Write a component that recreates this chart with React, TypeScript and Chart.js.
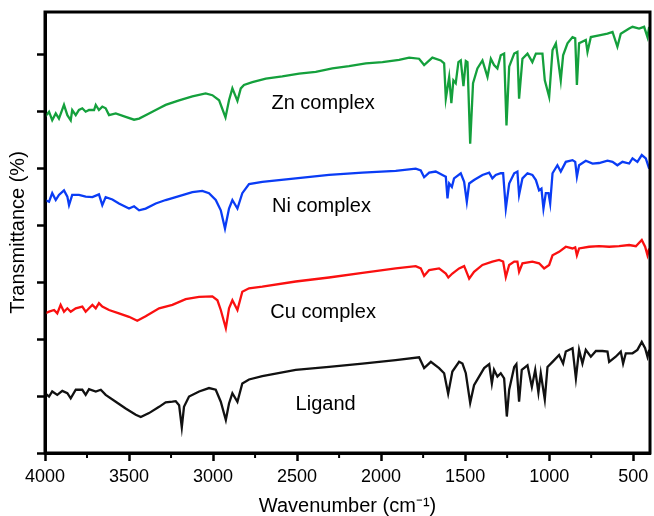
import React, { useEffect, useRef } from 'react';
import { Chart, registerables } from 'chart.js';

Chart.register(...registerables);

const xMajorTicks = [4000, 3500, 3000, 2500, 2000, 1500, 1000, 500];
const xMinorTicks = [3750, 3250, 2750, 2250, 1750, 1250, 750];
const yTicks = [0, 10, 20, 30, 40, 50, 60, 70];

const seriesNames = ['Zn complex', 'Ni complex', 'Cu complex', 'Ligand'];
const seriesColors = ['#14a03c', '#0a3cf5', '#fa1010', '#111111'];

const znWave = [4000,3976,3957,3936,3917,3887,3867,3847,3838,3817,3798,3778,3758,3738,3708,3698,3679,3659,3639,3619,3579,3520,3470,3440,3381,3321,3282,3202,3123,3044,3004,2964,2926,2905,2885,2855,2835,2816,2766,2686,2588,2488,2389,2290,2191,2091,1992,1893,1833,1774,1744,1695,1645,1625,1615,1595,1582,1570,1556,1540,1526,1510,1496,1486,1470,1453,1427,1397,1367,1347,1328,1308,1288,1268,1254,1238,1208,1189,1179,1159,1129,1100,1079,1040,1026,1000,980,960,931,917,891,861,845,835,822,782,772,752,703,653,623,594,574,524,504,465,435,415,405];
const znT = [59.0,59.9,58.4,59.6,58.7,61.1,59.3,58.4,60.2,59.3,60.2,60.5,59.9,60.2,60.2,61.1,60.2,60.8,60.5,59.3,59.6,59.0,58.5,58.7,59.6,60.5,61.1,61.9,62.6,63.1,62.8,61.9,58.9,61.9,64.0,61.8,64.0,64.6,65.1,65.7,66.1,66.6,66.9,67.5,67.9,68.4,68.6,69.0,69.4,69.2,68.1,69.4,68.9,68.4,62.2,66.0,61.4,65.4,64.9,68.6,68.9,64.4,68.8,68.6,54.3,64.9,67.5,68.9,66.0,69.2,68.1,67.5,69.8,70.1,57.5,67.8,70.1,70.4,62.2,69.2,70.1,68.6,70.1,70.1,65.4,62.5,70.7,71.9,65.4,69.8,71.9,73.0,72.8,64.6,71.9,72.5,70.4,73.0,73.3,73.6,73.9,71.3,73.6,74.5,74.8,74.5,74.8,73.0,74.8];

const niWave = [4000,3976,3957,3936,3917,3887,3867,3857,3838,3798,3758,3718,3679,3659,3639,3599,3560,3500,3470,3440,3401,3341,3282,3202,3123,3064,3024,2984,2954,2929,2905,2885,2855,2826,2786,2707,2508,2310,2111,1913,1794,1764,1744,1714,1675,1635,1615,1605,1595,1579,1566,1526,1506,1490,1476,1447,1397,1357,1338,1318,1288,1274,1258,1238,1208,1189,1179,1159,1129,1100,1079,1060,1046,1034,1020,1004,994,980,951,931,901,861,845,835,822,782,742,703,653,623,594,564,524,504,475,449,425,405];
const niT = [44.4,44.1,45.6,44.4,45.3,46.1,45.0,43.5,45.3,45.3,45.0,44.9,45.4,43.5,44.9,44.5,43.8,42.9,43.3,42.6,42.9,43.8,44.4,45.1,45.8,46.0,45.6,44.4,42.6,39.4,42.9,44.4,42.9,45.6,47.2,47.6,48.2,48.8,49.2,49.5,49.9,49.6,48.4,49.2,49.4,48.8,48.5,44.7,47.3,46.7,48.2,49.1,47.6,44.1,47.3,47.9,48.8,49.2,48.2,48.8,49.1,49.1,42.9,47.3,49.1,49.4,45.3,48.2,49.1,48.8,47.9,46.1,46.4,42.9,45.6,45.6,43.8,49.1,50.5,49.4,51.1,51.4,51.1,48.5,50.5,51.3,50.8,50.9,51.3,51.1,50.5,51.1,50.8,51.7,51.1,52.3,51.7,49.9];

const cuWave = [4000,3976,3946,3927,3907,3887,3867,3847,3817,3778,3758,3738,3718,3698,3679,3659,3619,3560,3500,3451,3401,3321,3242,3163,3083,3004,2974,2954,2924,2905,2885,2855,2826,2786,2707,2508,2310,2111,1913,1794,1764,1744,1714,1655,1615,1600,1576,1536,1506,1496,1476,1447,1397,1338,1298,1274,1258,1238,1208,1189,1179,1159,1100,1060,1030,1000,980,941,901,861,845,835,822,762,703,643,584,524,484,449,429,415,405];
const cuT = [24.5,24.8,25.1,24.5,26.0,24.8,25.4,24.8,25.4,25.7,24.8,25.4,26.0,25.4,26.3,25.7,25.1,24.5,23.9,23.2,24.0,25.4,26.0,27.0,27.4,27.5,26.8,25.1,21.9,25.4,26.8,25.1,28.3,28.9,29.2,30.1,30.8,31.6,32.4,32.8,32.4,31.1,32.1,32.4,31.5,30.8,31.5,32.4,32.8,32.1,30.6,31.8,33.0,33.6,33.9,33.6,30.9,33.0,33.6,33.6,31.8,33.3,33.6,33.3,32.4,33.0,34.7,35.3,36.2,35.9,36.1,34.7,35.9,36.2,36.3,36.2,36.3,36.5,36.3,37.4,36.2,34.7,35.9];

const ligWave = [4000,3976,3957,3927,3897,3867,3847,3817,3778,3758,3738,3698,3668,3639,3579,3520,3460,3430,3381,3321,3282,3242,3222,3202,3186,3173,3143,3083,3024,2984,2954,2924,2905,2885,2855,2826,2786,2707,2508,2310,2111,1913,1774,1744,1704,1655,1625,1601,1576,1536,1516,1496,1470,1447,1417,1387,1357,1341,1328,1308,1288,1268,1252,1238,1208,1195,1179,1163,1129,1103,1083,1064,1050,1026,1010,980,941,917,901,861,841,822,802,782,752,722,683,653,643,604,574,560,544,504,475,449,429,415,405];
const ligT = [10.5,9.9,10.8,10.2,10.9,10.5,9.6,11.1,11.1,10.2,11.2,10.8,11.1,10.2,9.0,7.8,6.7,6.3,7.0,8.1,8.9,9.0,9.1,8.4,4.5,8.1,9.9,10.8,11.4,11.1,9.0,5.8,8.7,10.5,9.0,12.2,12.9,13.5,14.6,15.1,15.7,16.3,16.8,14.9,16.0,14.9,14.0,10.4,14.3,16.0,15.7,14.0,8.8,11.9,13.4,14.9,15.6,12.2,14.6,13.4,14.0,13.1,6.4,11.1,15.1,15.6,9.0,14.6,15.4,11.6,14.6,10.6,14.0,9.4,15.1,16.0,17.2,15.7,17.8,18.4,13.1,18.1,15.7,18.1,16.9,17.9,17.9,17.8,16.0,16.9,17.8,15.7,17.5,17.5,18.1,19.5,18.4,16.9,18.1];

const seriesWaves = [znWave, niWave, cuWave, ligWave];
const seriesValues = [znT, niT, cuT, ligT];

const FONT = '"Liberation Sans", Arial, Helvetica, sans-serif';

function zip(w: number[], v: number[]) {
  const n = Math.min(w.length, v.length);
  const out: { x: number; y: number }[] = [];
  for (let i = 0; i < n; i++) out.push({ x: w[i], y: v[i] });
  return out;
}

const framePlugin = {
  id: 'frameAndLabels',
  afterDatasetsDraw(chart: any, _args: any, opts: any) {
    const { ctx, chartArea: a, scales } = chart;
    const x = scales.x;
    const y = scales.y;
    ctx.save();
    ctx.strokeStyle = '#000';
    ctx.lineWidth = 3;
    ctx.strokeRect(a.left, a.top, a.right - a.left, a.bottom - a.top);
    ctx.lineWidth = 2;
    for (const v of xMinorTicks) {
      const px = x.getPixelForValue(v);
      ctx.beginPath();
      ctx.moveTo(px, a.bottom);
      ctx.lineTo(px, a.bottom + 5);
      ctx.stroke();
    }
    ctx.font = `20px ${FONT}`;
    ctx.fillStyle = '#000';
    ctx.textAlign = 'center';
    ctx.textBaseline = 'middle';
    seriesNames.forEach((name, i) => {
      const anchor = opts.anchors[i];
      ctx.fillText(name, x.getPixelForValue(anchor[0]), y.getPixelForValue(anchor[1]));
    });
    ctx.restore();
  },
};

export default function App() {
  const ref = useRef<HTMLCanvasElement | null>(null);

  useEffect(() => {
    document.body.style.margin = '0';
    const canvas = ref.current;
    if (!canvas) return;
    const chart = new Chart(canvas, {
      type: 'line',
      data: {
        datasets: seriesNames.map((name, i) => ({
          label: name,
          data: zip(seriesWaves[i], seriesValues[i]),
          borderColor: seriesColors[i],
          borderWidth: 2.3,
          pointRadius: 0,
          tension: 0,
          fill: false,
        })),
      },
      options: {
        animation: false,
        responsive: false,
        devicePixelRatio: 1,
        parsing: false as any,
        layout: { padding: { top: 12, right: 4, left: 0, bottom: 0 } },
        plugins: {
          legend: { display: false },
          tooltip: { enabled: false },
          frameAndLabels: {
            anchors: [
              [2345, 61.4],
              [2355, 43.2],
              [2345, 24.6],
              [2330, 8.6],
            ],
          },
        } as any,
        scales: {
          x: {
            type: 'linear',
            reverse: true,
            min: 400,
            max: 4000,
            afterBuildTicks: (s: any) => {
              s.ticks = xMajorTicks.map((v) => ({ value: v }));
            },
            afterFit: (s: any) => {
              s.height = 63;
            },
            ticks: {
              color: '#000',
              font: { family: FONT, size: 18 },
              padding: 5,
              maxRotation: 0,
              autoSkip: false,
              callback: (v: any) => String(v),
            },
            grid: {
              drawOnChartArea: false,
              drawTicks: true,
              tickLength: 8,
              tickWidth: 2.5,
              tickColor: '#000',
              color: '#000',
            },
            border: { display: true, width: 3, color: '#000' },
            title: {
              display: true,
              text: 'Wavenumber (cm⁻¹)',
              color: '#000',
              font: { family: FONT, size: 20 },
              padding: { top: 0, bottom: -2 },
            },
          },
          y: {
            type: 'linear',
            min: 0,
            max: 77.4,
            afterBuildTicks: (s: any) => {
              s.ticks = yTicks.map((v) => ({ value: v }));
            },
            afterFit: (s: any) => {
              s.width = 45;
            },
            ticks: { display: false },
            grid: {
              drawOnChartArea: false,
              drawTicks: true,
              tickLength: 8,
              tickWidth: 2.5,
              tickColor: '#000',
              color: '#000',
            },
            border: { display: true, width: 3, color: '#000' },
            title: {
              display: true,
              text: 'Transmittance (%)',
              color: '#000',
              font: { family: FONT, size: 20 },
              padding: { top: 6, bottom: 0 },
            },
          },
        },
      },
      plugins: [framePlugin],
    });
    return () => chart.destroy();
  }, []);

  return (
    <div style={{ position: 'absolute', left: 0, top: 0, width: 654, height: 516 }}>
      <canvas ref={ref} width={654} height={516} style={{ display: 'block' }} />
    </div>
  );
}
